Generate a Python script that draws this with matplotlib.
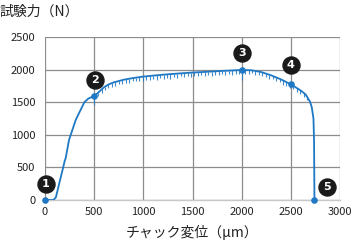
import matplotlib
matplotlib.use('Agg')
import matplotlib.pyplot as plt

plt.rcParams['font.family'] = ['Noto Sans CJK JP', 'DejaVu Sans']

# main load curve (displacement um, force N)
disp = [0, 85, 110, 125, 153, 180, 200, 210, 244, 312, 400, 440, 475, 502, 550, 600, 650, 700,
        800, 900, 1000, 1100, 1200, 1300, 1400, 1500, 1600, 1700, 1800, 1900, 2000, 2100, 2200,
        2300, 2400, 2500, 2600, 2650, 2695, 2713, 2730, 2736, 2740]
force = [0, 0, 40, 130, 307, 470, 600, 640, 920, 1227, 1500, 1555, 1580, 1595, 1660, 1730, 1775, 1805,
         1845, 1872, 1893, 1908, 1922, 1934, 1945, 1955, 1963, 1971, 1980, 1987, 1995, 1990, 1962,
         1912, 1850, 1775, 1680, 1620, 1508, 1420, 1250, 900, 0]

# serrations (downward spikes)
spike_x = [500, 540, 575, 610, 645, 680, 715, 750, 785, 820, 855, 890, 925, 960, 995, 1030, 1065,
           1100, 1135, 1170, 1205, 1240, 1275, 1310, 1345, 1380, 1415, 1450, 1485, 1520, 1555,
           1590, 1625, 1660, 1695, 1730, 1765, 1800, 1835, 1870, 1905, 1940, 1975, 2000, 2035,
           2070, 2105, 2140, 2175, 2210, 2245, 2280, 2315, 2350, 2385, 2420, 2455, 2490, 2525,
           2560, 2595, 2630, 2665]
spike_top = [1595, 1645, 1700, 1740, 1772, 1795, 1812, 1826, 1840, 1851, 1861, 1870, 1878, 1886,
             1893, 1898, 1903, 1908, 1913, 1918, 1923, 1927, 1931, 1935, 1939, 1943, 1946, 1950,
             1953, 1957, 1960, 1962, 1965, 1968, 1971, 1974, 1977, 1980, 1982, 1985, 1987, 1990,
             1993, 1995, 1994, 1992, 1989, 1980, 1970, 1958, 1940, 1922, 1904, 1882, 1860, 1836,
             1810, 1783, 1752, 1720, 1686, 1645, 1600]
spike_bottom = [1450, 1600, 1640, 1695, 1712, 1740, 1742, 1776, 1780, 1801, 1796, 1825, 1818, 1831,
                1823, 1848, 1843, 1858, 1848, 1873, 1863, 1872, 1861, 1885, 1879, 1898, 1881, 1895,
                1883, 1907, 1900, 1917, 1900, 1913, 1901, 1924, 1917, 1935, 1917, 1930, 1917, 1940,
                1933, 1840, 1939, 1932, 1944, 1915, 1915, 1898, 1885, 1857, 1859, 1822, 1805, 1766,
                1755, 1723, 1697, 1650, 1631, 1585, 1530]

# numbered points
pt_x = [0, 500, 2000, 2500, 2740]
pt_y = [0, 1595, 1995, 1775, 0]
pt_label = ['1', '2', '3', '4', '5']
lab_x = [10, 509, 2000, 2500, 2871]
lab_y = [245, 1840, 2250, 2070, 204]

blue = '#1f78c4'

fig = plt.figure(figsize=(3.55, 2.52), dpi=100)
ax = fig.add_axes([0.1268, 0.2063, 0.831, 0.6468])

ax.vlines(spike_x, spike_bottom, spike_top, color=blue, linewidth=0.8, alpha=0.85, zorder=3)
ax.plot(disp, force, color=blue, linewidth=1.3, zorder=4)
ax.scatter(pt_x, pt_y, s=14, color=blue, zorder=5, clip_on=False)

for lx, ly, t in zip(lab_x, lab_y, pt_label):
    ax.scatter([lx], [ly], s=150, color='#1a1a1a', zorder=6, clip_on=False)
    ax.text(lx, ly, t, color='white', fontsize=8, fontweight='bold', ha='center', va='center',
            zorder=7, family='DejaVu Sans')

ax.set_xlim(0, 3000)
ax.set_ylim(0, 2500)
ax.set_xticks(range(0, 3001, 500))
ax.set_yticks(range(0, 2501, 500))
ax.grid(True, color='#8c8c8c', linewidth=0.9)
ax.set_axisbelow(True)
for s in ['left', 'top', 'right']:
    ax.spines[s].set_visible(False)
ax.spines['bottom'].set_color('#c8c8c8')
ax.spines['bottom'].set_linewidth(1.0)
ax.tick_params(length=0, labelsize=8, colors='#222222')
ax.tick_params(axis='y', pad=7)
ax.tick_params(axis='x', pad=5)

ax.set_xlabel('チャック変位（μm）', fontsize=10, color='#222222', labelpad=6)
fig.text(0.0, 0.952, '試験力（N）', fontsize=10, color='#222222', ha='left', va='center')

fig.savefig('out.png', dpi=100)
